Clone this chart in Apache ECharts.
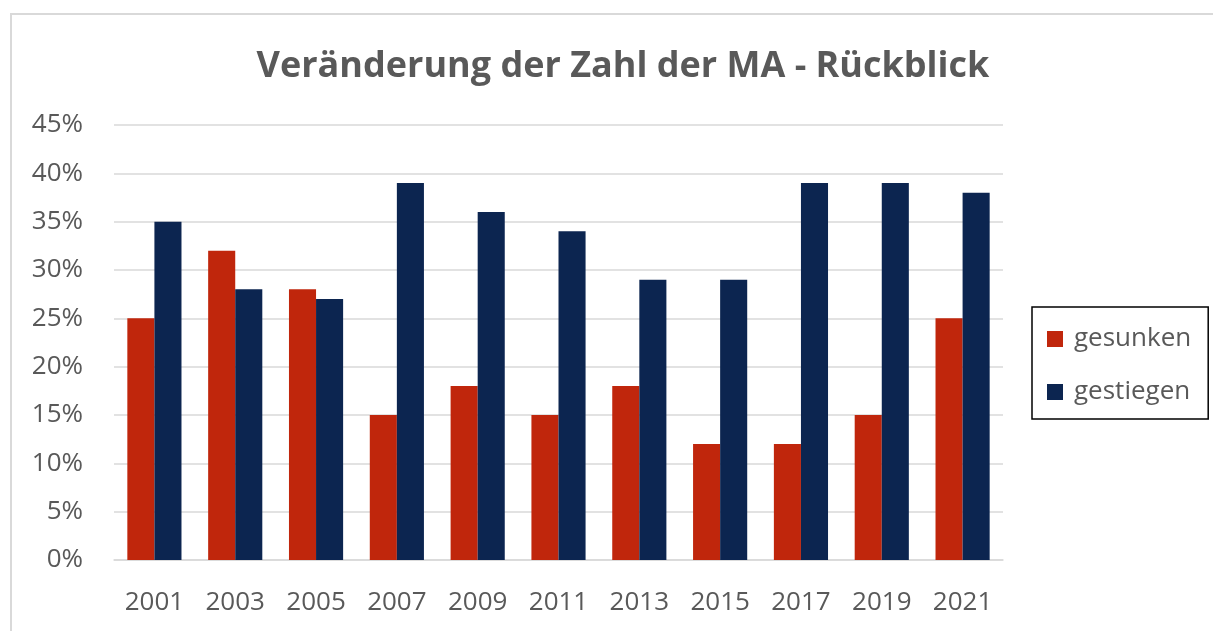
<!DOCTYPE html>
<html>
<head>
<meta charset="utf-8">
<script src="https://cdn.jsdelivr.net/npm/echarts@6/dist/echarts.min.js"></script>
<style>
  html, body { margin: 0; padding: 0; background: #fff; }
  #chart { width: 1213px; height: 631px; }
</style>
</head>
<body>
<div id="chart"></div>
<script>
const years = ["2001", "2003", "2005", "2007", "2009", "2011", "2013", "2015", "2017", "2019", "2021"];
const gesunken = [25, 32, 28, 15, 18, 15, 18, 12, 12, 15, 25];
const gestiegen = [35, 28, 27, 39, 36, 34, 29, 29, 39, 39, 38];

const chart = echarts.init(document.getElementById("chart"));
const font = "'Open Sans', 'Noto Sans', sans-serif";

chart.setOption({
  animation: false,
  textStyle: { fontFamily: font },
  graphic: [
    {
      type: "rect",
      shape: { x: 11, y: 14, width: 1220, height: 640 },
      style: { fill: "none", stroke: "#d9d9d9", lineWidth: 2 }
    }
  ],
  title: {
    text: "Veränderung der Zahl der MA - Rückblick",
    left: 618,
    textAlign: "center",
    top: 44,
    textStyle: { fontFamily: font, fontSize: 36, fontWeight: "bold", color: "#595959" }
  },
  legend: {
    orient: "vertical",
    left: 1032,
    top: 307,
    itemWidth: 16,
    itemHeight: 16,
    itemGap: 27,
    padding: [19, 17, 14, 15],
    borderColor: "#000",
    borderWidth: 1.5,
    icon: "rect",
    textStyle: { fontFamily: font, fontSize: 26, color: "#595959", padding: [0, 0, 0, 6] },
    data: ["gesunken", "gestiegen"]
  },
  grid: { left: 114, right: 210, top: 125, bottom: 71, containLabel: false },
  xAxis: {
    type: "category",
    data: years,
    axisLine: { lineStyle: { color: "#d9d9d9", width: 1.5 } },
    axisTick: { show: false },
    axisLabel: { fontFamily: font, fontSize: 26, color: "#595959", margin: 30 }
  },
  yAxis: {
    type: "value",
    min: 0,
    max: 45,
    interval: 5,
    axisLine: { show: false },
    axisTick: { show: false },
    splitLine: { lineStyle: { color: "#d9d9d9", width: 1.5 } },
    axisLabel: {
      fontFamily: font, fontSize: 26, color: "#595959", margin: 31,
      formatter: v => v + "%"
    }
  },
  series: [
    {
      name: "gesunken",
      type: "bar",
      data: gesunken,
      itemStyle: { color: "#c0260c" },
      barGap: "0%",
      barCategoryGap: "33%"
    },
    {
      name: "gestiegen",
      type: "bar",
      data: gestiegen,
      itemStyle: { color: "#0c2550" },
      barGap: "0%",
      barCategoryGap: "33%"
    }
  ]
});
</script>
</body>
</html>
